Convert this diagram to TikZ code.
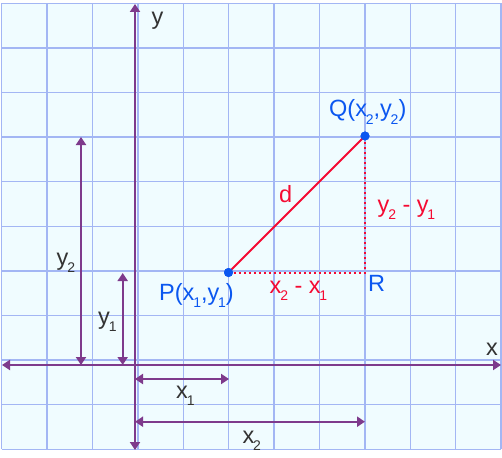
\documentclass[tikz,border=0pt]{standalone}
\usepackage{fontspec}
\setmainfont{Liberation Sans}
\usetikzlibrary{arrows.meta}
\definecolor{gridc}{HTML}{A3B6F4}
\definecolor{cellc}{HTML}{F0FCFF}
\definecolor{axc}{HTML}{7E3A8C}
\definecolor{redc}{HTML}{F50A32}
\definecolor{bluec}{HTML}{0B57F0}
\definecolor{txtc}{HTML}{333333}
\newcommand{\mysub}[1]{\kern-1.2pt\raisebox{-7.5pt}{\fontsize{14}{14}\selectfont #1}}
\tikzset{
  lbl/.style={anchor=base west,inner sep=0pt,font=\fontsize{23.5}{27}\selectfont},
  axis/.style={draw=axc,line width=2.6pt,{Triangle[length=8pt,width=10pt]}-{Triangle[length=8pt,width=10pt]}},
  dimarrow/.style={draw=axc,line width=2pt,{Triangle[length=8pt,width=10pt]}-{Triangle[length=8pt,width=10pt]}},
  gridline/.style={draw=gridc,line width=1.4pt},
  seg/.style={draw=redc,line width=2pt},
  dotseg/.style={draw=redc,line width=2pt,dash pattern=on 2.5pt off 2.5pt},
  pt/.style={circle,fill=bluec,inner sep=0pt,minimum size=9pt}
}
\begin{document}
\begin{tikzpicture}[x=1pt,y=-1pt]
\useasboundingbox (0,0) rectangle (502,457);
\fill[white] (0,0) rectangle (502,457);
\fill[cellc] (1.7,3.3) rectangle (501,449.3);
\foreach \i in {0,...,11} { \draw[gridline] (1.7+45.39*\i,3.3) -- (1.7+45.39*\i,449.3); }
\foreach \j in {0,...,10} { \draw[gridline] (1.7,3.3+44.6*\j) -- (501,3.3+44.6*\j); }
% axes
\coordinate (ytop) at (135,4);
\coordinate (ybot) at (135,450);
\coordinate (xleft) at (2,365);
\coordinate (xright) at (501,365);
\draw[axis] (ybot) -- (ytop);
\draw[axis] (xleft) -- (xright);
% dimension arrows
\coordinate (y2a) at (81,137);
\coordinate (y2b) at (81,365);
\coordinate (y1a) at (122.7,273);
\coordinate (y1b) at (122.7,365);
\coordinate (x1a) at (135,379);
\coordinate (x1b) at (229,379);
\coordinate (x2a) at (135,421.7);
\coordinate (x2b) at (365,421.7);
\draw[dimarrow] (y2a) -- (y2b);
\draw[dimarrow] (y1a) -- (y1b);
\draw[dimarrow] (x1a) -- (x1b);
\draw[dimarrow] (x2a) -- (x2b);
% points
\node[pt] (P) at (228.5,272.5) {};
\node[pt] (Q) at (365,136) {};
\coordinate (R) at (365,272.5);
\draw[dotseg] (P.center) -- (R) -- (Q.center);
\draw[seg] (P.center) -- (Q.center);
\node[pt] at (P.center) {};
\node[pt] at (Q.center) {};
% labels
\node[lbl,text=txtc] (ylab) at (151.5,25) {y};
\node[lbl,text=txtc] (xlab) at (486,355) {x};
\node[lbl,text=bluec] (Qlab) at (329,117) {Q(x\mysub{2},y\mysub{2})};
\node[lbl,text=bluec] (Plab) at (159,300) {P(x\mysub{1},y\mysub{1})};
\node[lbl,text=bluec] (Rlab) at (368,291.5) {R};
\node[lbl,text=redc] (dlab) at (279,202) {d};
\node[lbl,text=redc] (dxlab) at (269.5,293) {x\mysub{2} - x\mysub{1}};
\node[lbl,text=redc] (dylab) at (377.5,212) {y\mysub{2} - y\mysub{1}};
\node[lbl,text=txtc] (y2lab) at (56.5,265) {y\mysub{2}};
\node[lbl,text=txtc] (y1lab) at (98,324) {y\mysub{1}};
\node[lbl,text=txtc] (x1lab) at (176,398.3) {x\mysub{1}};
\node[lbl,text=txtc] (x2lab) at (242.3,443.3) {x\mysub{2}};
\end{tikzpicture}
\end{document}
